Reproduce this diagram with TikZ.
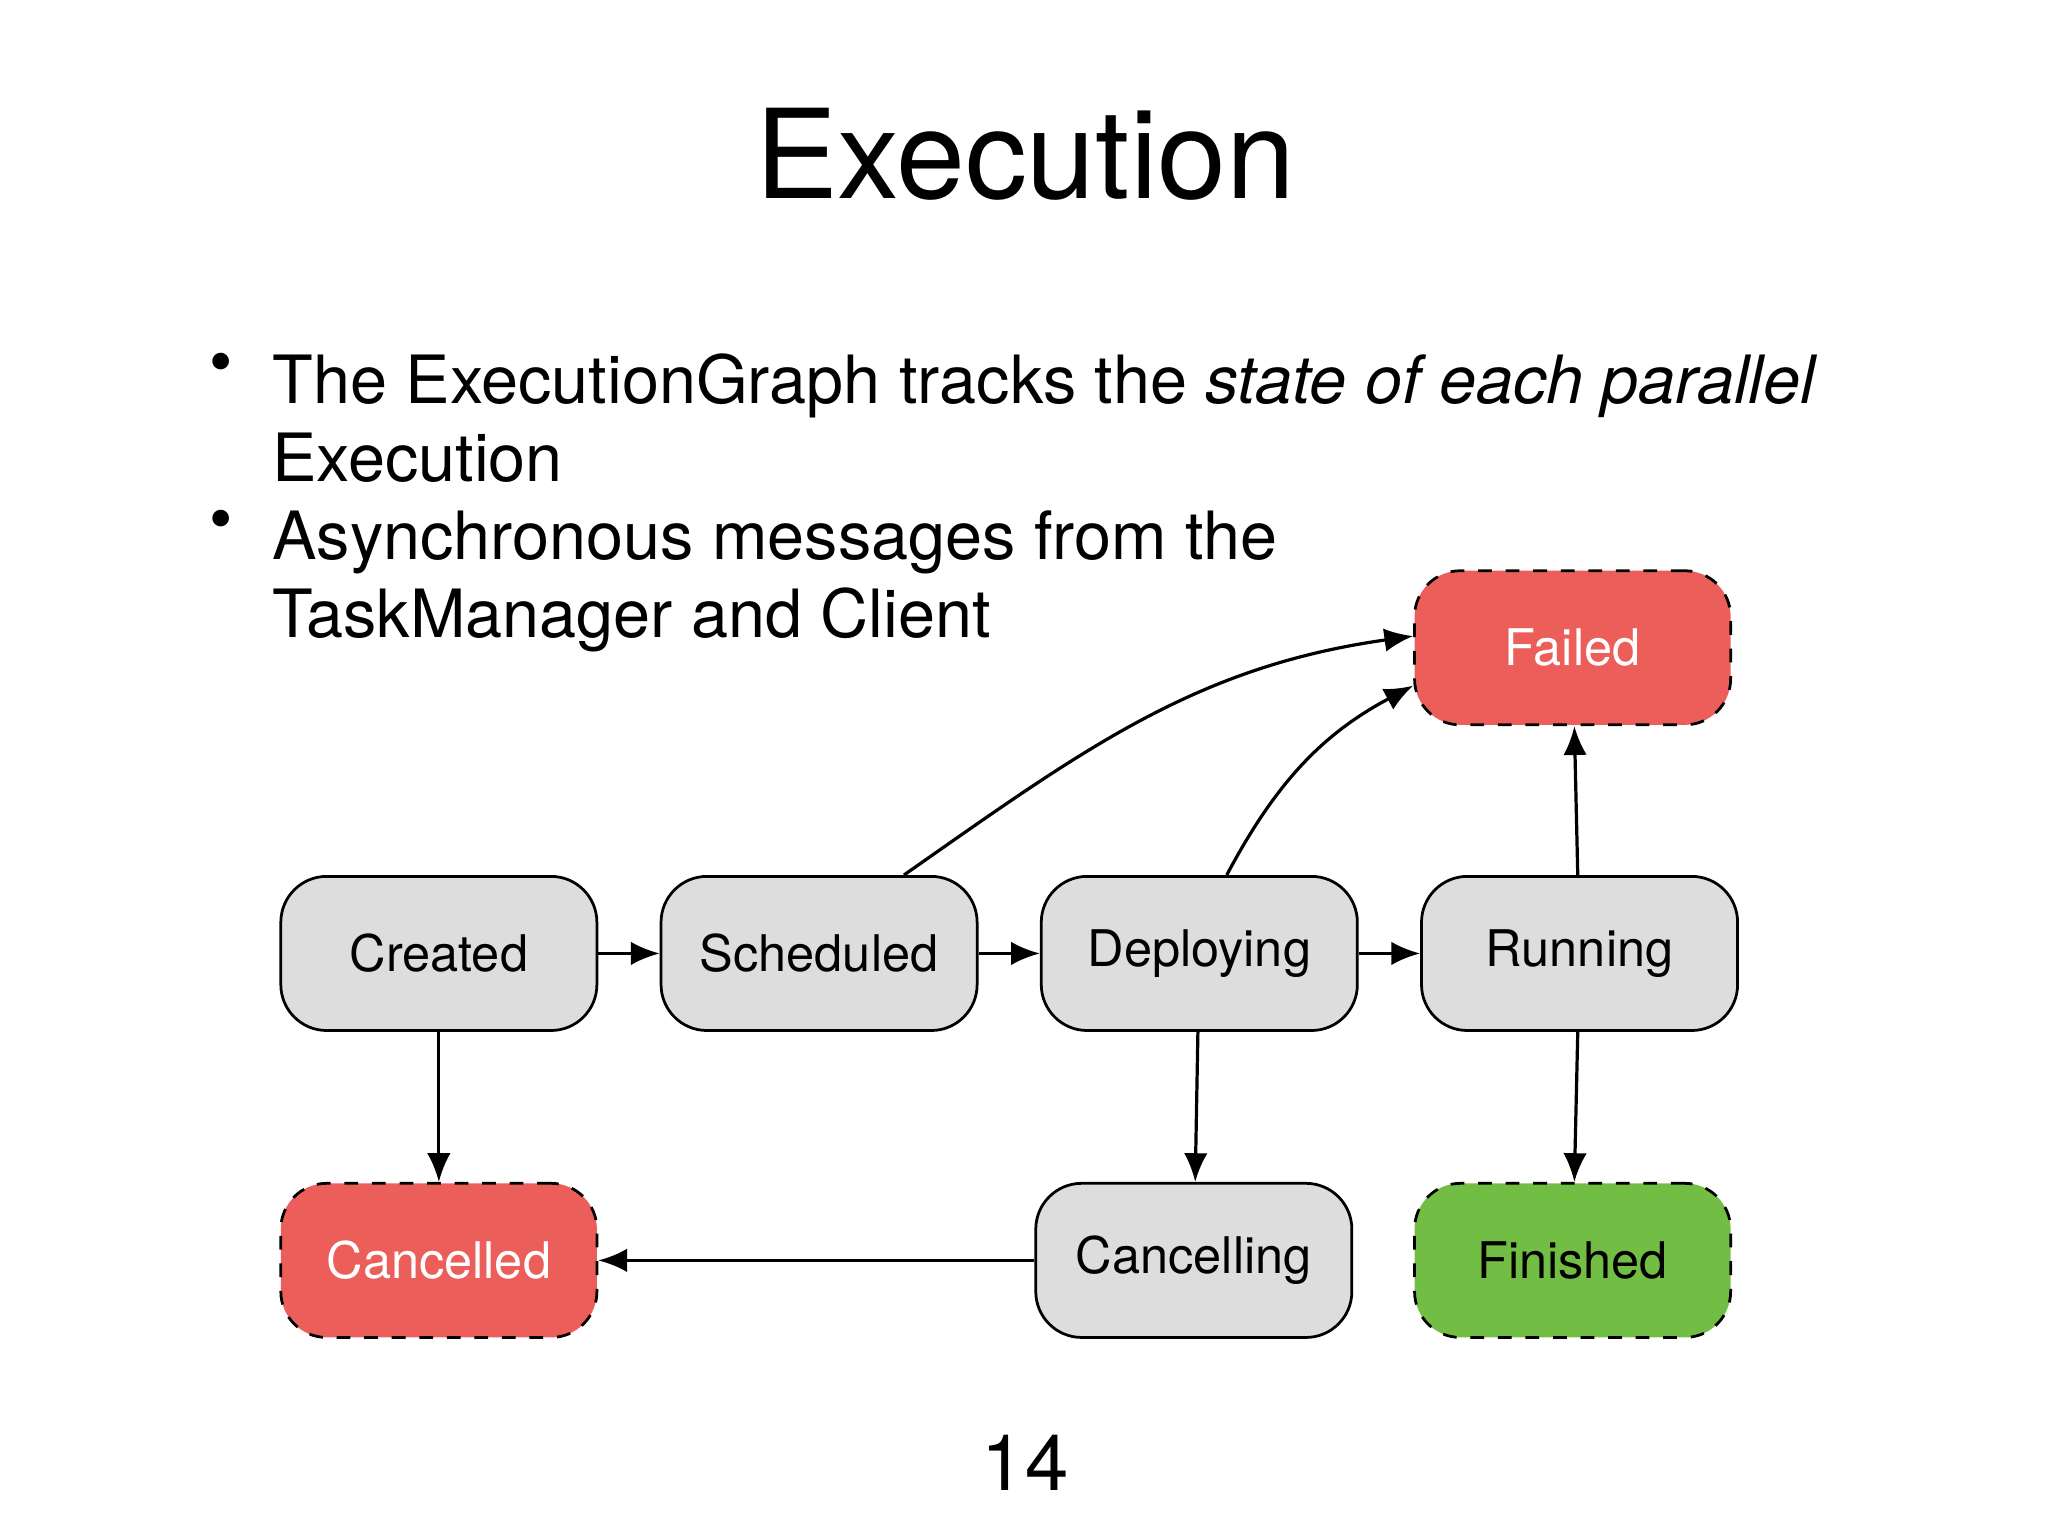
\documentclass[tikz,border=0pt]{standalone}
\usepackage{fontspec}
\setmainfont{TeX Gyre Heros}
\usetikzlibrary{positioning,arrows.meta}
\definecolor{stategray}{HTML}{DDDDDD}
\definecolor{failred}{HTML}{EB5E5A}
\definecolor{donegreen}{HTML}{72BE44}
\tikzset{
  state/.style={draw, rounded corners=10pt, minimum width=2.42cm, minimum height=1.18cm,
    inner xsep=0pt, fill=stategray, font=\fontsize{11}{13}\selectfont, line width=0.6pt},
  final/.style={state, dashed},
  trans/.style={-{Latex[length=2.2mm,width=1.8mm]}, line width=0.7pt},
  bullet/.style={anchor=north west, align=left, inner sep=0pt,
    font=\fontsize{14.5}{17}\selectfont}
}
\begin{document}
\begin{tikzpicture}
\useasboundingbox (0,0) rectangle (15.68,11.76);

% Title and bullets
\node (title) at (7.85,10.58) {\fontsize{27}{30}\selectfont Execution};
\node[bullet] (dotA) at (1.6,9.06) {\textbullet};
\node[bullet] (itemA) at (2.08,9.06) {The ExecutionGraph tracks the \textit{state of each parallel}\\Execution};
\node[bullet] (dotB) at (1.6,7.86) {\textbullet};
\node[bullet] (itemB) at (2.08,7.86) {Asynchronous messages from the\\TaskManager and Client};

% States
\node[state] (created) at (3.36,4.46) {Created};
\node[state, right=0.47cm of created] (scheduled) {Scheduled};
\node[state, right=0.47cm of scheduled] (deploying) {Deploying};
\node[state, right=0.47cm of deploying] (running) {Running};
\node[final, fill=failred, text=white] (failed) at (12.04,6.80) {Failed};
\node[final, fill=failred, text=white] (cancelled) at (3.36,2.11) {Cancelled};
\node[state] (cancelling) at (9.14,2.11) {Cancelling};
\node[final, fill=donegreen] (finished) at (12.04,2.11) {Finished};

% Transitions
\draw[trans] (created) -- (scheduled);
\draw[trans] (scheduled) -- (deploying);
\draw[trans] (deploying) -- (running);
\draw[trans] (running) -- (failed);
\draw[trans] (running) -- (finished);
\draw[trans] (created) -- (cancelled);
\draw[trans] (deploying) -- (cancelling);
\draw[trans] (cancelling) -- (cancelled);
\draw[trans] ([xshift=0.65cm]scheduled.north) to[out=35, in=188] ([yshift=0.09cm]failed.west);
\draw[trans] ([xshift=0.21cm]deploying.north) to[out=62, in=208] ([yshift=-0.29cm]failed.west);

% Page number
\node (pagenum) at (7.85,0.56) {\fontsize{17}{20}\selectfont 14};
\end{tikzpicture}
\end{document}
